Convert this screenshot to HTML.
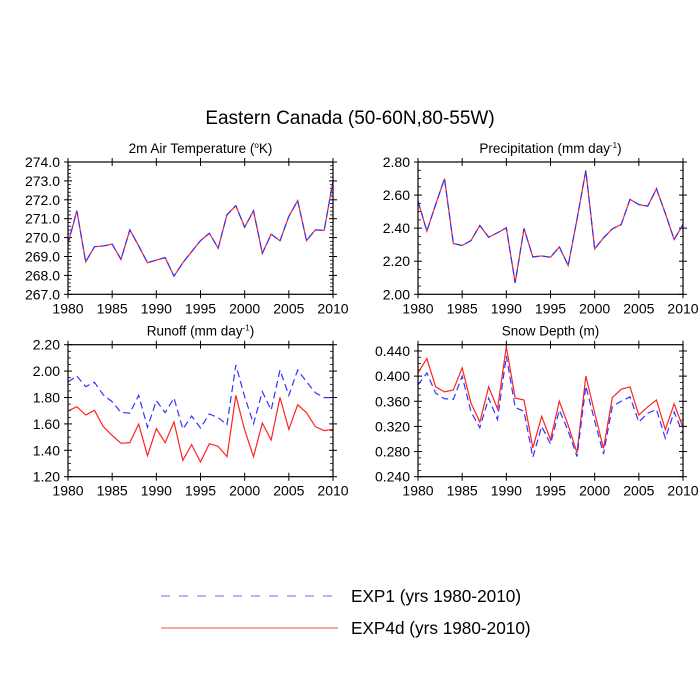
<!DOCTYPE html>
<html><head><meta charset="utf-8"><style>
html,body{margin:0;padding:0;background:#fff;}
svg{display:block;font-family:"Liberation Sans",sans-serif;}
</style></head><body>
<svg id="chart" width="700" height="700" viewBox="0 0 700 700">
<text x="350" y="124" font-size="19" text-anchor="middle">Eastern Canada (50-60N,80-55W)</text>
<g>
<line x1="161" y1="596" x2="338" y2="596" stroke="#6666ff" stroke-width="1" stroke-dasharray="9,9"/>
<text x="351" y="602" font-size="17.2">EXP1 (yrs 1980-2010)</text>
<line x1="161" y1="628" x2="338" y2="628" stroke="#ee5555" stroke-width="1"/>
<text x="351" y="634" font-size="17.2">EXP4d (yrs 1980-2010)</text>
</g>
</svg>
<script>
const years = [];
for (let y = 1980; y <= 2010; y++) years.push(y);
const xTickLabels = [1980,1985,1990,1995,2000,2005,2010];

const tempExp1 = [269.67,271.42,268.72,269.52,269.56,269.65,268.85,270.41,269.56,268.67,268.81,268.94,267.96,268.67,269.26,269.84,270.23,269.44,271.21,271.69,270.55,271.42,269.17,270.18,269.83,271.12,271.96,269.84,270.41,270.38,272.99];
const tempExp4d = [269.67,271.42,268.72,269.52,269.56,269.65,268.85,270.41,269.56,268.67,268.81,268.94,267.96,268.67,269.26,269.84,270.23,269.44,271.21,271.69,270.55,271.42,269.17,270.18,269.83,271.12,271.96,269.84,270.41,270.38,272.99];
const precipExp1 = [2.564,2.382,2.543,2.699,2.307,2.295,2.325,2.416,2.345,2.372,2.402,2.069,2.398,2.226,2.232,2.224,2.287,2.174,2.453,2.749,2.275,2.341,2.396,2.422,2.574,2.543,2.533,2.638,2.489,2.331,2.422];
const precipExp4d = [2.564,2.382,2.543,2.699,2.307,2.295,2.325,2.416,2.345,2.372,2.402,2.069,2.398,2.226,2.232,2.224,2.287,2.174,2.453,2.749,2.275,2.341,2.396,2.422,2.574,2.543,2.533,2.638,2.489,2.331,2.422];
const runoffExp1 = [1.917,1.963,1.882,1.915,1.819,1.768,1.687,1.682,1.816,1.574,1.776,1.685,1.796,1.561,1.660,1.569,1.675,1.647,1.594,2.046,1.806,1.602,1.844,1.705,2.008,1.816,2.008,1.920,1.836,1.799,1.799];
const runoffExp4d = [1.698,1.730,1.667,1.703,1.579,1.513,1.453,1.458,1.599,1.359,1.564,1.458,1.614,1.324,1.443,1.311,1.450,1.430,1.352,1.816,1.554,1.352,1.607,1.478,1.801,1.559,1.745,1.685,1.579,1.549,1.559];
const snowExp1 = [0.386,0.405,0.373,0.364,0.363,0.400,0.343,0.318,0.365,0.331,0.432,0.350,0.344,0.271,0.320,0.292,0.346,0.313,0.272,0.384,0.329,0.276,0.352,0.360,0.367,0.327,0.341,0.347,0.301,0.343,0.308];
const snowExp4d = [0.405,0.428,0.383,0.375,0.378,0.413,0.357,0.327,0.383,0.348,0.447,0.365,0.362,0.286,0.336,0.299,0.360,0.322,0.278,0.400,0.342,0.285,0.366,0.379,0.383,0.338,0.351,0.362,0.315,0.356,0.318];

const tempTicks = [267,268,269,270,271,272,273,274];
const precipTicks = [2.0,2.2,2.4,2.6,2.8];
const runoffTicks = [1.2,1.4,1.6,1.8,2.0,2.2];
const snowTicks = [0.24,0.28,0.32,0.36,0.40,0.44];

const NS = 'http://www.w3.org/2000/svg';
const svg = document.getElementById('chart');
function mk(tag, attrs, parent) {
  const e = document.createElementNS(NS, tag);
  for (const k in attrs) e.setAttribute(k, attrs[k]);
  parent.appendChild(e);
  return e;
}

function panel(cfg) {
  const g = mk('g', {}, svg);
  
  
  const {x0, x1, y0, y1, ymin, ymax} = cfg;
  const sx = v => x0 + (v - 1980) / 30 * (x1 - x0);
  const sy = v => y1 - (v - ymin) / (ymax - ymin) * (y1 - y0);
  const t = mk('text', {x: (x0 + x1) / 2, y: y0 - 9, 'font-size': 13.5, 'text-anchor': 'middle'}, g);
  
  
  t.textContent = cfg.title;
  if (cfg.sup) {
    const ts = mk('tspan', {'font-size': 8, dy: -5}, t); ts.textContent = cfg.sup;
    const t2 = mk('tspan', {dy: 5}, t); t2.textContent = cfg.after;
  }
  for (let i = 0; i < cfg.yticks.length; i++) {
    const v = cfg.yticks[i];
    const y = sy(v);
    mk('line', {x1: x0 - 4, x2: x0 + 4, y1: y, y2: y, stroke: '#000'}, g);
    mk('line', {x1: x1 - 4, x2: x1 + 4, y1: y, y2: y, stroke: '#000'}, g);
    const lb = mk('text', {x: x0 - 8, y: y + 5, 'font-size': 14, 'text-anchor': 'end'}, g);
    
    
    lb.textContent = v.toFixed(cfg.dec);
    if (i < cfg.yticks.length - 1) {
      const step = (cfg.yticks[i + 1] - v) / cfg.minor;
      for (let k = 1; k < cfg.minor; k++) {
        const ym = sy(v + k * step);
        mk('line', {x1: x0, x2: x0 + 3, y1: ym, y2: ym, stroke: '#000', 'stroke-width': 0.8}, g);
        mk('line', {x1: x1 - 3, x2: x1, y1: ym, y2: ym, stroke: '#000', 'stroke-width': 0.8}, g);
      }
    }
  }
  const lastStep = (cfg.yticks[1] - cfg.yticks[0]) / cfg.minor;
  for (let v = cfg.yticks[cfg.yticks.length - 1] + lastStep; v < ymax - 1e-9; v += lastStep) {
    const ym = sy(v);
    mk('line', {x1: x0, x2: x0 + 3, y1: ym, y2: ym, stroke: '#000', 'stroke-width': 0.8}, g);
    mk('line', {x1: x1 - 3, x2: x1, y1: ym, y2: ym, stroke: '#000', 'stroke-width': 0.8}, g);
  }
  xTickLabels.forEach(v => {
    const x = sx(v);
    mk('line', {x1: x, x2: x, y1: y1 - 4, y2: y1 + 4, stroke: '#000'}, g);
    mk('line', {x1: x, x2: x, y1: y0 - 4, y2: y0 + 4, stroke: '#000'}, g);
    const lb = mk('text', {x: x, y: y1 + 19, 'font-size': 14, 'text-anchor': 'middle'}, g);
    
    
    lb.textContent = v;
  });
  const line = (data, color, dash, nm) => {
    const p = mk('polyline', {points: data.map((v, i) => sx(years[i]) + ',' + sy(v)).join(' '), fill: 'none', stroke: color, 'stroke-width': 1.2}, g);
    if (dash) p.setAttribute('stroke-dasharray', dash);
    
    
  };
  line(cfg.s2, '#ff2222', null, cfg.name + '-exp4d-line');
  line(cfg.s1, '#3333ff', '7,4', cfg.name + '-exp1-line');
  const fr = mk('rect', {x: x0, y: y0, width: x1 - x0, height: y1 - y0, fill: 'none', stroke: '#000', 'stroke-width': 1.2}, g);
  
  
}

panel({name: 'temperature-panel', title: '2m Air Temperature (', sup: 'o', after: 'K)', x0: 68, x1: 333, y0: 162, y1: 294.3, ymin: 267, ymax: 274, yticks: tempTicks, minor: 5, dec: 1, s1: tempExp1, s2: tempExp4d});
panel({name: 'precipitation-panel', title: 'Precipitation (mm day', sup: '-1', after: ')', x0: 418, x1: 683, y0: 162, y1: 294.3, ymin: 2.0, ymax: 2.8, yticks: precipTicks, minor: 4, dec: 2, s1: precipExp1, s2: precipExp4d});
panel({name: 'runoff-panel', title: 'Runoff (mm day', sup: '-1', after: ')', x0: 68, x1: 333, y0: 344.7, y1: 476.7, ymin: 1.2, ymax: 2.2, yticks: runoffTicks, minor: 4, dec: 2, s1: runoffExp1, s2: runoffExp4d});
panel({name: 'snow-depth-panel', title: 'Snow Depth (m)', x0: 418, x1: 683, y0: 344.7, y1: 476.7, ymin: 0.24, ymax: 0.45, yticks: snowTicks, minor: 4, dec: 3, s1: snowExp1, s2: snowExp4d});
</script>
</body></html>
